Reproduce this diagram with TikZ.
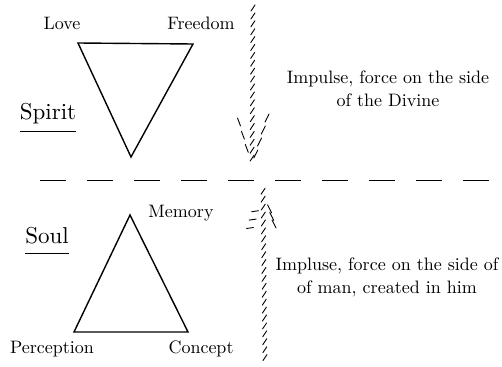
\documentclass[tikz,border=0pt]{standalone}
\usepackage{fontspec}
\setmainfont{lmroman10-regular.otf}
\usetikzlibrary{calc}
\begin{document}
\begin{tikzpicture}[x=1pt, y=-1pt,
    edge/.style={line width=1.4pt, line join=miter},
    word/.style={font=\fontsize{18}{23}\selectfont, inner sep=0pt, anchor=base},
    realm/.style={font=\fontsize{23}{28}\selectfont, inner sep=0pt, anchor=base},
    note/.style={font=\fontsize{18}{23}\selectfont, align=center, inner sep=0pt, anchor=base},
    rule/.style={line width=0.9pt},
    divide/.style={line width=0.9pt, dash pattern=on 26pt off 21pt},
    hatch/.style={line width=0.9pt, line cap=round}
]
    \useasboundingbox (0,0) rectangle (502,366);

    % Triangles
    \coordinate (sLove) at (78,43);
    \coordinate (sFree) at (193,44);
    \coordinate (sTip) at (131,157);
    \draw[edge] (sLove) -- (sFree) -- (sTip) -- cycle;
    \coordinate (mTop) at (130,215);
    \coordinate (mPerc) at (74,332);
    \coordinate (mConc) at (188,332);
    \draw[edge] (mTop) -- (mConc) -- (mPerc) -- cycle;

    % Labels
    \node[word] (love) at (62,30) {Love};
    \node[word] (freedom) at (201,30) {Freedom};
    \node[word] (memory) at (181,217) {Memory};
    \node[word] (perception) at (52,353) {Perception};
    \node[word] (concept) at (201,353) {Concept};
    \node[realm] (spirit) at (48,120) {Spirit};
    \node[realm] (soul) at (47,243) {Soul};
    \draw[rule] ($(spirit.base west)+(0,11)$) -- ($(spirit.base east)+(0,11)$);
    \draw[rule] ($(soul.base west)+(0,10)$) -- ($(soul.base east)+(0,10)$);

    % Divide
    \coordinate (divL) at (40,180);
    \coordinate (divR) at (502,180);
    \draw[divide] (divL) -- (divR);

    % Downward impulse
    \coordinate (dTop) at (253,8);
    \coordinate (dTip) at (252,166);
    \coordinate (dLeft) at (239,122);
    \coordinate (dRight) at (267,118);
    \foreach \t in {0,0.05,...,0.97}
        \draw[hatch] ($(dTop)!\t!(dTip)$) +(-2,3) -- +(2,-3);
    \foreach \t in {0,0.3,0.6}
        \draw[hatch] ($(dLeft)!\t!(dTip)$) +(-1.5,-4) -- +(1.5,4);
    \foreach \t in {0,0.25,0.5,0.75}
        \draw[hatch] ($(dRight)!\t!(dTip)$) +(-2,4) -- +(2,-4);

    % Upward impulse
    \coordinate (uTip) at (263,186);
    \coordinate (uBot) at (265,362);
    \coordinate (uLeft) at (250,228);
    \coordinate (uRight) at (274,224);
    \foreach \t in {0.03,0.075,...,1}
        \draw[hatch] ($(uTip)!\t!(uBot)$) +(-2,3) -- +(2,-3);
    \foreach \t in {0,0.2,0.4}
        \draw[hatch] ($(uLeft)!\t!(uTip)$) +(-3.5,0.5) -- +(3.5,-0.5);
    \foreach \t in {0,0.2,0.4}
        \draw[hatch] ($(uRight)!\t!(uTip)$) +(-2,-4) -- +(2,4);

    % Notes
    \node[note] (divine) at (388,107) {Impulse, force on the side\\of the Divine};
    \node[note] (man) at (387,293) {Impluse, force on the side of\\of man, created in him};
\end{tikzpicture}
\end{document}
